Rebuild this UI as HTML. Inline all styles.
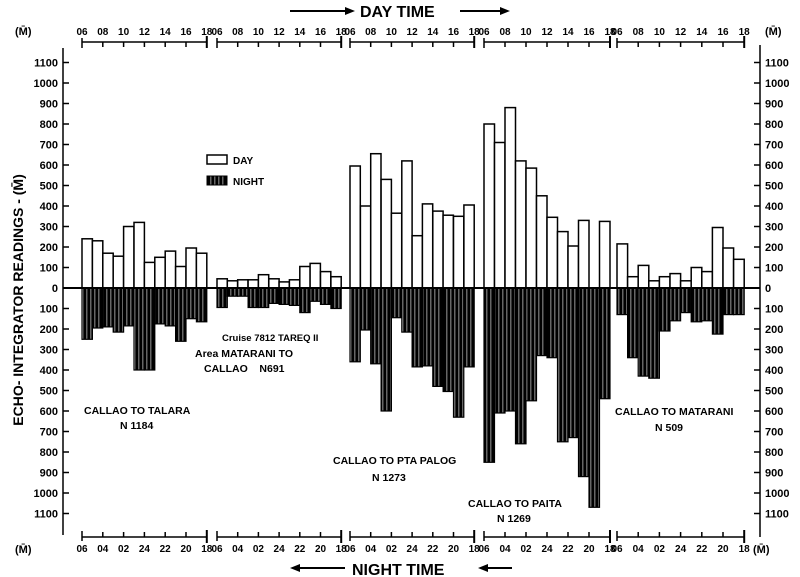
<!DOCTYPE html>
<html><head><meta charset="utf-8"><style>
html,body{margin:0;padding:0;background:#fff}
svg{display:block}
text{font-family:"Liberation Sans",sans-serif;font-weight:bold;fill:#000}
</style></head><body>
<svg id="s" width="800" height="577" viewBox="0 0 800 577" xmlns="http://www.w3.org/2000/svg">
<defs>
<pattern id="h" patternUnits="userSpaceOnUse" width="4" height="10">
<rect width="4" height="10" fill="#000"/><rect x="2.6" width="0.6" height="10" fill="#fff"/>
</pattern>
</defs>
<g id="g"></g>
<line x1="290" y1="11" x2="345" y2="11" stroke="#000" stroke-width="2"/><polygon points="345,7 355,11 345,15"/>
<text x="360" y="17" font-size="16">DAY TIME</text>
<line x1="460" y1="11" x2="500" y2="11" stroke="#000" stroke-width="2"/><polygon points="500,7 510,11 500,15"/>
<polygon points="300,564 290,568 300,572"/><line x1="300" y1="568" x2="345" y2="568" stroke="#000" stroke-width="2"/>
<text x="352" y="575" font-size="16">NIGHT TIME</text>
<polygon points="488,564 478,568 488,572"/><line x1="488" y1="568" x2="512" y2="568" stroke="#000" stroke-width="2"/>
<text x="15" y="35" font-size="11">(M̄)</text>
<text x="765" y="35" font-size="11">(M̄)</text>
<text x="15" y="553" font-size="11">(M̄)</text>
<text x="753" y="553" font-size="11">(M̄)</text>
<text transform="translate(23,300) rotate(-90)" text-anchor="middle" font-size="14">ECHO- INTEGRATOR READINGS - (M̄)</text>
<rect x="207" y="155" width="20" height="9" fill="#fff" stroke="#000" stroke-width="1.5"/>
<text x="233" y="164" font-size="10">DAY</text>
<rect x="207" y="176" width="20" height="9" fill="url(#h)" stroke="#000" stroke-width="1"/>
<text x="233" y="185" font-size="10">NIGHT</text>
<g font-size="10.5">
<text x="84" y="414">CALLAO TO TALARA</text>
<text x="120" y="429">N 1184</text>
<text x="222" y="341" font-size="9.5">Cruise 7812 TAREQ II</text>
<text x="195" y="357">Area MATARANI TO</text>
<text x="204" y="372">CALLAO&#160;&#160;&#160;&#160;N691</text>
<text x="333" y="464">CALLAO TO PTA PALOG</text>
<text x="372" y="481">N 1273</text>
<text x="468" y="507">CALLAO TO PAITA</text>
<text x="497" y="522">N 1269</text>
<text x="615" y="415">CALLAO TO MATARANI</text>
<text x="655" y="431">N 509</text>
</g>
</svg>
<script>
var g=document.getElementById('g'),out='';
var Z=288,K=0.205;
var segs=[
{x:82,w:10.4,d:[240,230,170,155,300,320,125,150,180,105,195,170],n:[250,195,190,215,185,400,400,175,185,260,150,165]},
{x:217,w:10.35,d:[45,35,40,40,65,45,30,40,105,120,80,55],n:[95,40,40,95,95,75,80,85,120,65,80,100]},
{x:350,w:10.35,d:[595,400,655,530,365,620,255,410,375,355,350,405],n:[360,205,370,600,145,215,385,380,480,505,630,385]},
{x:484,w:10.5,d:[800,710,880,620,585,450,345,275,205,330,0,325],n:[850,610,600,760,550,330,340,750,730,920,1070,540]},
{x:617,w:10.6,d:[215,55,110,35,55,70,35,100,80,295,195,140],n:[130,340,430,440,210,160,120,165,160,225,130,130]}
];
segs.forEach(function(s){
 s.d.forEach(function(v,i){var x=s.x+i*s.w;if(v>0)out+='<rect x="'+x.toFixed(1)+'" y="'+(Z-v*K).toFixed(1)+'" width="'+s.w.toFixed(1)+'" height="'+(v*K).toFixed(1)+'" fill="#fff" stroke="#000" stroke-width="1.5"/>';});
 s.n.forEach(function(v,i){var x=s.x+i*s.w;out+='<rect x="'+x.toFixed(1)+'" y="'+Z+'" width="'+s.w.toFixed(1)+'" height="'+(v*K).toFixed(1)+'" fill="url(#h)" stroke="#000" stroke-width="1.2"/>';});
 var e=s.x+12*s.w;
 out+='<line x1="'+s.x+'" y1="42" x2="'+e+'" y2="42" stroke="#000" stroke-width="1.5"/>';
 out+='<line x1="'+s.x+'" y1="38" x2="'+s.x+'" y2="48" stroke="#000" stroke-width="1.5"/>';
 out+='<line x1="'+e+'" y1="36" x2="'+e+'" y2="48" stroke="#000" stroke-width="2"/>';
 out+='<line x1="'+s.x+'" y1="537" x2="'+e+'" y2="537" stroke="#000" stroke-width="1.5"/>';
 out+='<line x1="'+s.x+'" y1="531" x2="'+s.x+'" y2="541" stroke="#000" stroke-width="1.5"/>';
 out+='<line x1="'+e+'" y1="530" x2="'+e+'" y2="543" stroke="#000" stroke-width="2"/>';
 var tl=['06','08','10','12','14','16','18'],bl=['06','04','02','24','22','20','18'];
 for(var j=0;j<7;j++){var tx=s.x+j*2*s.w;
  if(j>0&&j<6){out+='<line x1="'+tx+'" y1="42" x2="'+tx+'" y2="47" stroke="#000" stroke-width="1.5"/>';out+='<line x1="'+tx+'" y1="532" x2="'+tx+'" y2="537" stroke="#000" stroke-width="1.5"/>';}
  out+='<text x="'+tx+'" y="35" font-size="10" text-anchor="middle">'+tl[j]+'</text>';
  out+='<text x="'+tx+'" y="552" font-size="10" text-anchor="middle">'+bl[j]+'</text>';}
});
out+='<line x1="63" y1="288" x2="760" y2="288" stroke="#000" stroke-width="2"/>';
out+='<line x1="63" y1="48" x2="63" y2="535" stroke="#000" stroke-width="1.5"/>';
out+='<line x1="760" y1="45" x2="760" y2="537" stroke="#000" stroke-width="1.5"/>';
for(var v=0;v<=1100;v+=100){[1,-1].forEach(function(sg){if(v==0&&sg<0)return;var y=Z-sg*v*K;
 out+='<line x1="63" y1="'+y+'" x2="69" y2="'+y+'" stroke="#000" stroke-width="1.5"/>';
 out+='<line x1="754" y1="'+y+'" x2="760" y2="'+y+'" stroke="#000" stroke-width="1.5"/>';
 out+='<text x="58" y="'+(y+4)+'" font-size="11" text-anchor="end">'+v+'</text>';
 out+='<text x="765" y="'+(y+4)+'" font-size="11">'+v+'</text>';});}
g.innerHTML=out;
</script>
</body></html>
